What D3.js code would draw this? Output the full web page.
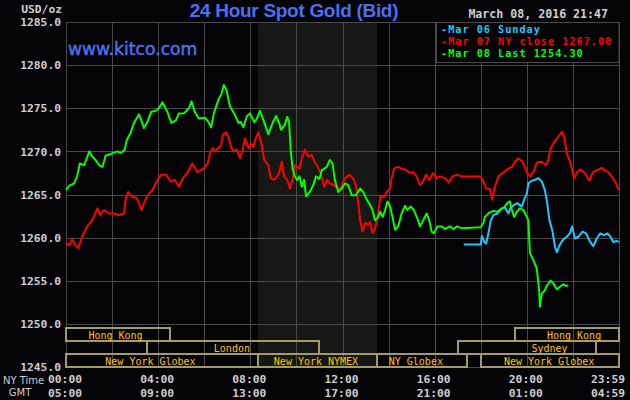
<!DOCTYPE html>
<html><head><meta charset="utf-8">
<script src="https://cdn.jsdelivr.net/npm/d3@7"></script>
<style>html,body{margin:0;padding:0;background:#040406;} svg{display:block}</style>
</head><body><svg id="c" width="630" height="400"></svg>
<script>
// ---- data (minutes after 00:00 NY time, price USD/oz) ----
const priceTicks = [1245,1250,1255,1260,1265,1270,1275,1280,1285];
const tickMinutes = [0,240,480,720,960,1200,1439];
const nyTicks = ["00:00","04:00","08:00","12:00","16:00","20:00","23:59"];
const gmtTicks = ["05:00","09:00","13:00","17:00","21:00","01:00","04:59"];
const gridMinutes = [0,120,240,360,480,600,720,840,960,1080,1200,1320,1440];
const nymexPit = [500, 810];

const legendLabels = ["-Mar 06 Sunday","-Mar 07 NY close 1267.00","-Mar 08 Last 1254.30"];

const sessions = [
  {name:"Hong Kong", row:0, start:0, end:270, labelAt:129},
  {name:"Hong Kong", row:0, start:1170, end:1440, labelAt:1323},
  {name:"London", row:1, start:210, end:660, labelAt:432},
  {name:"Sydney", row:1, start:1020, end:1380, labelAt:1259},
  {name:"New York Globex", row:2, start:0, end:500, labelAt:220},
  {name:"New York NYMEX", row:2, start:500, end:810, labelAt:651},
  {name:"NY Globex", row:2, start:810, end:1043, labelAt:911},
  {name:"New York Globex", row:2, start:1080, end:1440, labelAt:1258}
];

const mar06 = [[1036,1259.2],[1080,1259.2],[1083,1260.2],[1089,1259.5],[1094,1259.3],[1100,1260.5],[1106,1262.0],[1113,1262.6],[1123,1262.8],[1135,1263.4],[1143,1263.5],[1152,1262.8],[1158,1263.5],[1167,1263.8],[1175,1264.0],[1187,1263.6],[1193,1264.4],[1200,1265.1],[1204,1266.3],[1213,1266.6],[1221,1266.7],[1230,1266.9],[1239,1266.5],[1247,1265.5],[1253,1264.0],[1259,1262.0],[1267,1260.7],[1273,1259.0],[1278,1258.3],[1285,1259.1],[1295,1259.8],[1304,1260.1],[1312,1260.5],[1318,1261.3],[1325,1259.9],[1334,1260.1],[1345,1260.7],[1354,1260.5],[1365,1259.5],[1373,1259.0],[1382,1259.9],[1391,1260.5],[1401,1260.3],[1410,1260.5],[1418,1260.1],[1425,1259.5],[1434,1259.6],[1440,1259.5]];

const mar07 = [[0,1259.4],[8,1259.1],[16,1259.8],[25,1259.1],[32,1258.8],[42,1260.1],[55,1261.3],[68,1262.0],[82,1263.4],[89,1262.6],[99,1263.2],[112,1262.8],[125,1262.8],[138,1262.6],[151,1262.8],[156,1264.6],[162,1265.3],[173,1264.7],[184,1264.6],[197,1263.2],[203,1264.0],[212,1264.9],[225,1265.5],[236,1266.5],[247,1267.3],[260,1267.3],[273,1266.5],[283,1266.7],[294,1265.9],[303,1266.8],[316,1267.5],[329,1268.6],[342,1267.6],[358,1268.0],[369,1268.6],[375,1269.8],[382,1270.4],[388,1270.0],[397,1270.4],[404,1270.7],[408,1271.9],[417,1272.2],[423,1271.7],[430,1270.5],[436,1270.0],[445,1270.2],[453,1269.2],[460,1270.2],[466,1271.5],[475,1270.4],[482,1270.9],[488,1270.5],[494,1271.5],[501,1272.2],[510,1270.7],[516,1269.0],[527,1268.4],[533,1266.9],[542,1266.7],[550,1267.1],[555,1267.5],[562,1268.8],[568,1267.1],[576,1266.7],[583,1265.7],[590,1266.7],[596,1268.4],[608,1268.0],[614,1269.2],[622,1270.2],[631,1269.4],[640,1269.6],[647,1268.8],[654,1268.3],[663,1267.5],[672,1265.9],[680,1266.7],[687,1266.3],[696,1266.1],[705,1265.9],[713,1265.5],[720,1266.3],[727,1266.9],[738,1267.3],[747,1266.9],[755,1266.1],[761,1264.0],[766,1262.0],[772,1260.7],[779,1261.7],[787,1261.5],[792,1261.8],[798,1260.5],[805,1261.1],[811,1262.2],[819,1264.9],[828,1264.7],[835,1265.3],[844,1265.7],[848,1266.9],[854,1268.0],[865,1268.2],[874,1268.0],[883,1267.9],[896,1267.5],[904,1267.6],[913,1267.1],[922,1266.1],[930,1266.5],[937,1267.3],[946,1266.7],[956,1267.5],[965,1266.9],[974,1267.1],[987,1266.9],[996,1266.4],[1007,1267.1],[1017,1267.3],[1030,1267.1],[1080,1267.1],[1087,1266.5],[1094,1265.7],[1104,1265.6],[1110,1264.4],[1117,1265.9],[1126,1267.1],[1137,1267.5],[1148,1267.9],[1161,1268.2],[1169,1268.8],[1178,1269.2],[1189,1268.8],[1200,1267.6],[1208,1267.1],[1217,1267.6],[1226,1268.7],[1239,1268.8],[1250,1268.4],[1256,1269.0],[1262,1270.4],[1273,1271.2],[1285,1271.9],[1292,1272.3],[1298,1271.5],[1304,1269.8],[1314,1268.6],[1323,1266.9],[1331,1267.6],[1340,1267.9],[1351,1267.5],[1363,1266.6],[1372,1267.6],[1382,1267.8],[1395,1268.1],[1404,1267.8],[1412,1267.6],[1421,1267.1],[1432,1266.3],[1439,1265.5]];

const mar08 = [[0,1265.5],[8,1266.0],[21,1266.3],[29,1267.1],[36,1268.6],[47,1268.4],[54,1269.2],[61,1270.0],[68,1269.4],[77,1269.0],[86,1268.4],[95,1268.2],[103,1269.5],[116,1269.7],[134,1270.0],[142,1269.8],[153,1270.2],[158,1271.3],[168,1272.1],[177,1273.3],[190,1274.3],[196,1273.6],[203,1272.7],[212,1273.4],[222,1274.6],[234,1274.7],[242,1275.0],[251,1275.7],[264,1274.6],[274,1273.3],[286,1273.6],[294,1274.4],[307,1274.4],[320,1275.0],[327,1275.8],[335,1274.6],[346,1273.8],[362,1273.9],[371,1273.4],[378,1272.8],[385,1274.4],[397,1276.0],[405,1276.7],[411,1277.7],[418,1277.1],[427,1275.2],[438,1274.4],[449,1273.3],[455,1273.4],[462,1272.8],[471,1274.1],[479,1274.4],[490,1273.4],[497,1273.8],[505,1274.7],[516,1273.4],[527,1272.0],[538,1273.3],[547,1274.1],[555,1273.3],[560,1272.5],[570,1273.1],[576,1274.0],[581,1273.4],[585,1270.2],[590,1268.0],[596,1267.1],[602,1266.7],[608,1267.1],[614,1265.9],[620,1266.7],[625,1264.8],[635,1265.3],[644,1266.1],[651,1267.1],[660,1266.8],[666,1267.8],[679,1268.2],[687,1269.0],[694,1268.6],[700,1266.7],[709,1265.3],[718,1265.7],[727,1266.3],[735,1266.1],[744,1264.9],[755,1264.9],[766,1265.7],[774,1265.3],[783,1264.4],[792,1263.8],[798,1263.2],[805,1262.0],[813,1262.4],[818,1263.0],[825,1262.4],[831,1263.2],[837,1264.2],[844,1263.6],[850,1262.4],[857,1260.9],[865,1261.3],[874,1262.8],[883,1263.7],[889,1263.2],[898,1263.6],[906,1263.2],[915,1262.2],[922,1261.3],[930,1262.0],[939,1262.8],[946,1262.0],[952,1260.7],[958,1260.5],[967,1261.3],[978,1261.3],[987,1261.0],[1000,1261.3],[1009,1261.0],[1017,1261.3],[1030,1261.1],[1080,1261.2],[1087,1261.7],[1091,1262.4],[1102,1262.9],[1113,1263.1],[1123,1263.0],[1132,1263.3],[1141,1263.5],[1149,1264.0],[1156,1264.2],[1161,1263.2],[1167,1262.4],[1174,1263.0],[1182,1263.4],[1191,1263.2],[1198,1262.6],[1204,1262.0],[1208,1258.2],[1217,1257.4],[1226,1256.4],[1232,1253.9],[1234,1252.0],[1239,1253.5],[1247,1253.9],[1253,1254.5],[1262,1255.0],[1269,1254.7],[1278,1254.0],[1286,1254.3],[1295,1254.6],[1302,1254.4],[1308,1254.5]];

const seriesColors = ["#1ec8ff","#ff0000","#00ff00"];

// ---- drawing ----
const svg = d3.select("#c");
const L = 66, R = 619, T = 22, B = 367;
const x = d3.scaleLinear().domain([0,1440]).range([L,R]);
const y = d3.scaleLinear().domain([1245,1285]).range([B,T]);
const mono = "'DejaVu Sans Mono','Liberation Mono',monospace";
const gridCol = "#4a4a4a";
const textCol = "#cfcfcf";
const blue = "#4d6ff0";

svg.append("rect").attr("width",630).attr("height",400).attr("fill","#040406");

// NYMEX pit shading
svg.append("rect").attr("x",x(nymexPit[0])).attr("y",T)
  .attr("width",x(nymexPit[1])-x(nymexPit[0])).attr("height",B-T).attr("fill","#151815");

// horizontal grid + y labels via axis
const yAxis = svg.append("g").attr("transform",`translate(${L},0)`)
  .call(d3.axisLeft(y).tickValues(priceTicks).tickFormat(d3.format(".1f"))
        .tickSize(-(R-L)).tickPadding(5));
yAxis.select(".domain").remove();
yAxis.selectAll("line").attr("stroke",gridCol).attr("shape-rendering","crispEdges");
yAxis.selectAll("text").attr("fill",textCol).style("font-family",mono)
  .style("font-size","11.3px").style("font-weight","bold");

// vertical grid via axis
const xGrid = svg.append("g").attr("transform",`translate(0,${B})`)
  .call(d3.axisBottom(x).tickValues(gridMinutes).tickFormat("").tickSize(-(B-T)));
xGrid.select(".domain").remove();
xGrid.selectAll("line").attr("stroke",gridCol).attr("shape-rendering","crispEdges");

// session bars
const rowTop = [328, 341, 354], rowH = 13;
const sg = svg.append("g");
sg.selectAll("rect").data(sessions).join("rect")
  .attr("x",d=>x(d.start)).attr("y",d=>rowTop[d.row])
  .attr("width",d=>x(d.end)-x(d.start)).attr("height",rowH)
  .attr("fill","none").attr("stroke","#a39c68").attr("stroke-width",2)
  .attr("shape-rendering","crispEdges");
sg.selectAll("text").data(sessions).join("text")
  .attr("x",d=>x(d.labelAt)).attr("y",d=>rowTop[d.row]+10.5)
  .attr("text-anchor","middle").attr("fill","#ffc400")
  .style("font-family",mono).style("font-size","10px").text(d=>d.name);

// price lines
const line = d3.line().x(d=>x(d[0])).y(d=>y(d[1]));
[mar06, mar07, mar08].forEach((s,i)=>{
  svg.append("path").datum(s).attr("d",line).attr("fill","none")
    .attr("stroke",seriesColors[i]).attr("stroke-width",2).attr("stroke-linejoin","round");
});

// legend
svg.append("rect").attr("x",436.5).attr("y",T+0.5).attr("width",R-436.5).attr("height",40)
  .attr("fill","#040406").attr("stroke",gridCol);
svg.append("g").selectAll("text").data(legendLabels).join("text")
  .attr("x",441).attr("y",(d,i)=>32.5+i*12.2).attr("fill",(d,i)=>seriesColors[i])
  .style("font-family",mono).style("font-size","10.2px").style("font-weight","bold")
  .style("letter-spacing","1px").text(d=>d);

// titles
svg.append("text").attr("x",294).attr("y",17).attr("text-anchor","middle")
  .attr("fill",blue).style("font-family","'Liberation Sans',Arial,sans-serif")
  .style("font-size","19px").style("font-weight","bold").style("letter-spacing","-0.3px")
  .text("24 Hour Spot Gold (Bid)");
svg.append("text").attr("x",68).attr("y",55).attr("fill",blue)
  .attr("stroke",blue).attr("stroke-width",0.5)
  .style("font-family","'DejaVu Sans',Verdana,sans-serif").style("font-size","17.2px")
  .text("www.kitco.com");
svg.append("text").attr("x",608).attr("y",18).attr("text-anchor","end").attr("fill",textCol)
  .style("font-family",mono).style("font-size","11.6px").style("font-weight","bold")
  .text("March 08, 2016 21:47");
svg.append("text").attr("x",62).attr("y",13).attr("text-anchor","end").attr("fill",textCol)
  .style("font-family",mono).style("font-size","11.3px").style("font-weight","bold")
  .text("USD/oz");

// x labels
const xl = svg.append("g");
function xLabelX(d,i){ return i===tickMinutes.length-1 ? 625 : x(d)-1; }
function xAnchor(d,i){ return i===tickMinutes.length-1 ? "end" : "middle"; }
xl.selectAll("text.ny").data(tickMinutes).join("text").attr("class","ny")
  .attr("x",xLabelX).attr("y",382.5).attr("text-anchor",xAnchor).attr("fill",textCol)
  .style("font-family",mono).style("font-size","11.3px").style("font-weight","bold")
  .text((d,i)=>nyTicks[i]);
xl.selectAll("text.gmt").data(tickMinutes).join("text").attr("class","gmt")
  .attr("x",xLabelX).attr("y",397).attr("text-anchor",xAnchor).attr("fill",textCol)
  .style("font-family",mono).style("font-size","11.3px").style("font-weight","bold")
  .text((d,i)=>gmtTicks[i]);
svg.append("text").attr("x",3).attr("y",383.5).attr("fill",textCol)
  .style("font-family","'DejaVu Sans',sans-serif").style("font-size","10px").text("NY Time");
svg.append("text").attr("x",20).attr("y",396).attr("text-anchor","middle").attr("fill",textCol)
  .style("font-family","'DejaVu Sans',sans-serif").style("font-size","10px").text("GMT");
</script></body></html>
